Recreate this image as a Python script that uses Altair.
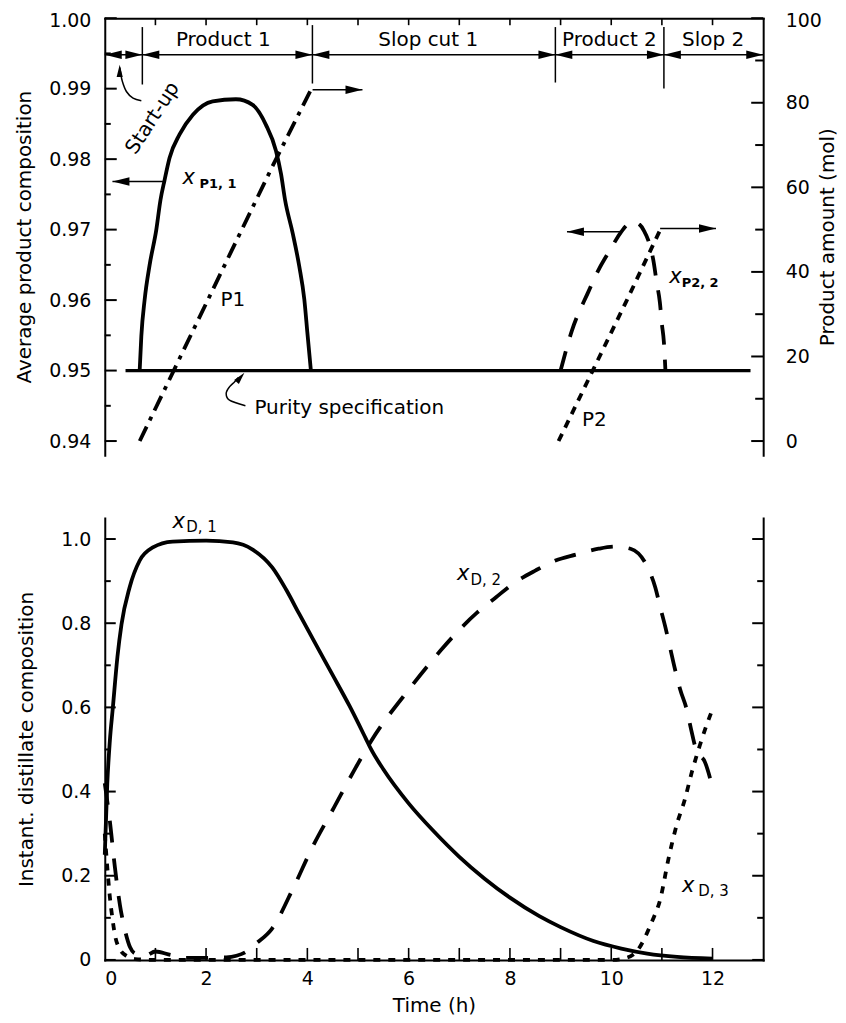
import altair as alt
import pandas as pd

FONT = "DejaVu Sans"
W = 660
H_TOP = 438
H_BOT = 443

TIME_DOMAIN = [0, 13]
AVG_DOMAIN = [0.938, 1.0]
AMT_DOMAIN = [-3.333, 100]
INST_DOMAIN = [0, 1.05]

# ---------------- top panel: average product composition (left axis) ----------------
xp11_t = [0.689, 0.722, 0.788, 0.886, 1.018, 1.10, 1.18, 1.28, 1.477, 1.74, 2.13, 2.59,
          2.92, 3.18, 3.38, 3.48, 3.56, 3.71, 3.84, 3.94, 4.00, 4.07]
xp11_v = [0.9500, 0.9549, 0.9601, 0.9650, 0.9700, 0.9742, 0.9770, 0.9802, 0.9835, 0.9863,
          0.9882, 0.9885, 0.9877, 0.9849, 0.9812, 0.9779, 0.9742, 0.9695, 0.9648, 0.9601,
          0.9554, 0.9500]

xp22_t = [9.00, 9.22, 9.55, 9.75, 9.95, 10.20, 10.30, 10.45, 10.55, 10.65, 10.73, 10.83,
          10.90, 10.96, 11.00, 11.04, 11.07]
xp22_v = [0.9500, 0.9556, 0.9612, 0.9643, 0.9668, 0.9697, 0.9706, 0.9711, 0.9708, 0.9698,
          0.9685, 0.9657, 0.9624, 0.9597, 0.9566, 0.9540, 0.9500]

purity_t = [0.41, 12.75]
purity_v = [0.95, 0.95]

# product amounts (right axis, mol)
p1_t = [0.69, 1.5, 2.5, 3.3, 4.10]
p1_m = [0.0, 20.1, 44.9, 64.7, 83.8]
p2_t = [8.96, 9.6, 10.3, 10.965]
p2_m = [0.0, 15.8, 33.1, 49.9]

# ---------------- bottom panel: instantaneous distillate composition ----------------
xd1_t = [0.0, 0.05, 0.10, 0.16, 0.25, 0.33, 0.49, 0.69, 0.95, 1.34, 2.00, 2.53, 2.92,
         3.31, 3.58, 3.84, 4.17, 4.49, 4.83, 5.15, 5.26, 5.50, 6.00, 6.50, 7.00, 7.50,
         8.00, 8.58, 9.00, 9.65, 10.20, 10.71, 11.30, 12.0]
xd1_v = [0.25, 0.42, 0.52, 0.60, 0.72, 0.797, 0.885, 0.949, 0.980, 0.994, 0.996, 0.992,
         0.975, 0.932, 0.880, 0.822, 0.749, 0.679, 0.604, 0.527, 0.500, 0.453, 0.372,
         0.305, 0.245, 0.193, 0.148, 0.104, 0.078, 0.045, 0.027, 0.015, 0.007, 0.003]

xd2_t = [0.0, 0.10, 0.20, 0.30, 0.40, 0.50, 0.60, 0.80, 1.00, 1.30, 1.60, 2.00, 2.40,
         2.60, 2.80, 3.00, 3.30, 3.73, 4.10, 4.53, 4.96, 5.26, 6.04, 6.63, 6.99, 7.35,
         7.72, 8.04, 8.50, 8.90, 9.30, 9.75, 10.08, 10.38, 10.70, 10.87, 10.97, 11.07,
         11.16, 11.26, 11.36, 11.49, 11.58, 11.68, 11.85, 12.0]
xd2_v = [0.42, 0.33, 0.22, 0.13, 0.07, 0.03, 0.015, 0.01, 0.02, 0.012, 0.005, 0.005,
         0.006, 0.01, 0.02, 0.04, 0.074, 0.173, 0.268, 0.363, 0.458, 0.52, 0.648, 0.735,
         0.783, 0.825, 0.861, 0.892, 0.925, 0.949, 0.963, 0.977, 0.982, 0.977, 0.937,
         0.885, 0.837, 0.79, 0.743, 0.69, 0.643, 0.595, 0.546, 0.498, 0.47, 0.41]

xd3_t = [0.0, 0.05, 0.10, 0.15, 0.20, 0.30, 0.45, 0.60, 1.0, 2.0, 3.0, 4.0, 5.0, 6.0,
         7.0, 8.0, 9.0, 10.0, 10.3, 10.5, 10.8, 10.97, 11.13, 11.29, 11.45, 11.6, 11.75,
         11.88, 12.02]
xd3_v = [0.30, 0.22, 0.15, 0.10, 0.06, 0.025, 0.008, 0.002, 0.0, 0.0, 0.0, 0.0, 0.0,
         0.0, 0.0, 0.0, 0.0, 0.0, 0.005, 0.02, 0.09, 0.145, 0.24, 0.32, 0.38, 0.45, 0.51,
         0.557, 0.602]

# ---------------- ticks ----------------
avg_major = [0.94, 0.95, 0.96, 0.97, 0.98, 0.99, 1.00]
avg_minor = [0.945, 0.955, 0.965, 0.975, 0.985, 0.995]
amt_major = [0, 20, 40, 60, 80, 100]
amt_minor = [10, 30, 50, 70, 90]
inst_major = [0, 0.2, 0.4, 0.6, 0.8, 1.0]
inst_minor = [0.1, 0.3, 0.5, 0.7, 0.9]
hour_ticks = [1, 2, 3, 4, 5, 6, 7, 8, 9, 10, 11, 12]
time_labels = [0, 2, 4, 6, 8, 10, 12]

# ---------------- cut bracket (top of upper panel) ----------------
cut_bounds = [0.0, 0.742, 4.10, 8.897, 11.04, 13.0]
cut_names = ["Product 1", "Slop cut 1", "Product 2", "Slop 2"]
cut_label_t = [2.34, 6.385, 9.963, 12.01]
cut_label_v = 0.99690
bracket_v = 0.9948
cut_line_t = [0.742, 4.10, 8.897, 11.04]
cut_line_top = [0.99874, 0.99902, 0.99874, 0.99874]
cut_line_bot = [0.99059, 0.99073, 0.99087, 0.99002]

# horizontal pointer arrows (tail t, tip t, level)
arrow_tail_t = [1.149, 4.103, 10.197, 10.965]
arrow_tip_t = [0.152, 5.088, 9.126, 12.068]
arrow_v = [0.97682, 0.98984, 0.96969, 0.97017]

# curved pointer for "Start-up"
startup_t = [0.722, 0.558, 0.427, 0.348, 0.309, 0.298]
startup_v = [0.98830, 0.98866, 0.98960, 0.99101, 0.99241, 0.99300]
startup_tip = (0.295, 0.99340)
# curved pointer for "Purity specification"
purity_arrow_t = [2.777, 2.462, 2.397, 2.462, 2.561, 2.640]
purity_arrow_v = [0.94502, 0.94580, 0.94675, 0.94769, 0.94839, 0.94900]
purity_tip = (2.757, 0.94970)

# ---------------- texts ----------------
top_text = ["P1", "P2"]
top_text_t = [2.53, 9.665]
top_text_v = [0.9600, 0.9430]
purity_label = "Purity specification"
purity_label_pos = (2.955, 0.94474)
startup_label = "Start-up"
startup_label_pos = (0.945, 0.98581)

top_x_t = [1.655, 11.27]
top_x_v = [0.97738, 0.96329]
top_sub = ["P1, 1", "P2, 2"]
top_sub_t = [1.871, 11.39]
top_sub_v = [0.97654, 0.96244]

bot_x_t = [1.46, 7.075, 11.52]
bot_x_v = [1.040, 0.918, 0.1754]
bot_sub = ["D, 1", "D, 2", "D, 3"]
bot_sub_t = [1.61, 7.22, 11.72]
bot_sub_v = [1.029, 0.902, 0.1635]

# ================= helpers =================
def line_df(t, v, col="v"):
    return pd.DataFrame({"t": t, col: v, "i": list(range(len(t)))})

AX_TOP_X = alt.Axis(orient="top", labels=False, ticks=False, title=None, domain=True,
                    grid=False)
AX_BOT_X = alt.Axis(orient="bottom", values=time_labels, format="d", title="Time (h)",
                    ticks=False, labelPadding=10, titlePadding=7, grid=False)
AX_AVG = alt.Axis(orient="left", values=avg_major, format=".2f",
                  title="Average product composition", ticks=False, labelPadding=14,
                  titlePadding=14, grid=False,
                  labelOffset={"condition": {"test": "datum.value >= 0.9999", "value": 2},
                               "value": 0})
AX_AMT = alt.Axis(orient="right", values=amt_major, format="d",
                  title="Product amount (mol)", ticks=False, labelPadding=22,
                  titlePadding=16, titleAngle=270, grid=False,
                  labelOffset={"condition": {"test": "datum.value >= 99.99", "value": 2},
                               "value": 0})
AX_INST = alt.Axis(orient="left", values=inst_major,
                   labelExpr="datum.value == 0 ? '0' : format(datum.value, '.1f')",
                   title="Instant. distillate composition", ticks=False, labelPadding=14,
                   titlePadding=24, grid=False)
AX_INST_R = alt.Axis(orient="right", labels=False, ticks=False, title=None, grid=False)


def sx(domain=TIME_DOMAIN):
    return alt.Scale(domain=domain, nice=False, zero=False)


def xt(field="t"):
    return alt.X(f"{field}:Q", scale=sx(), axis=AX_TOP_X)


def xb(field="t"):
    return alt.X(f"{field}:Q", scale=sx(), axis=AX_BOT_X)


def ya(field="v"):
    return alt.Y(f"{field}:Q", scale=sx(AVG_DOMAIN), axis=AX_AVG)


def ym(field="m"):
    return alt.Y(f"{field}:Q", scale=sx(AMT_DOMAIN), axis=AX_AMT)


def yi(field="v"):
    return alt.Y(f"{field}:Q", scale=sx(INST_DOMAIN), axis=AX_INST)


def yi_r(field="v"):
    return alt.Y(f"{field}:Q", scale=sx(INST_DOMAIN), axis=AX_INST_R)


def curve(df, X, Y, width=3.8, dash=None, interp="monotone"):
    kw = dict(color="black", strokeWidth=width, strokeCap="butt", strokeJoin="round",
              interpolate=interp)
    if dash:
        kw["strokeDash"] = dash
    return alt.Chart(df).mark_line(**kw).encode(x=X, y=Y, order="i:Q")


HEAD_R = "M0,0L-2,-0.5L-2,0.5Z"
HEAD_L = "M0,0L2,-0.5L2,0.5Z"
HEAD_U = "M0,0L-0.5,2L0.5,2Z"


def heads(df, X, Y, shape, size=289, angle=0):
    return alt.Chart(df).mark_point(shape=shape, filled=True, color="black", opacity=1,
                                    size=size, angle=angle, strokeWidth=0).encode(x=X, y=Y)


def texts(df, X, Y, size=19, align="center", style="normal", weight="normal", angle=0):
    return alt.Chart(df).mark_text(font=FONT, fontSize=size, color="black", align=align,
                                   baseline="middle", fontStyle=style, fontWeight=weight,
                                   angle=angle).encode(x=X, y=Y, text="label:N")


# ================= top panel =================
seg_df = pd.DataFrame({"t0": cut_bounds[:-1], "t1": cut_bounds[1:],
                       "v": [bracket_v] * (len(cut_bounds) - 1)})
bl_df = pd.DataFrame({"t": cut_bounds[:-1], "v": [bracket_v] * (len(cut_bounds) - 1)})
br_df = pd.DataFrame({"t": cut_bounds[1:], "v": [bracket_v] * (len(cut_bounds) - 1)})
vl_df = pd.DataFrame({"t": cut_line_t, "v": cut_line_top, "v2": cut_line_bot})
cutlab_df = pd.DataFrame({"t": cut_label_t, "v": [cut_label_v] * 4, "label": cut_names})

arr_df = pd.DataFrame({"t0": arrow_tail_t, "t1": arrow_tip_t, "v": arrow_v})
arr_tip = pd.DataFrame({"t": arrow_tip_t, "v": arrow_v,
                        "dir": ["L" if b < a else "R" for a, b in zip(arrow_tail_t, arrow_tip_t)]})

left_layers = [
    # ticks
    alt.Chart(pd.DataFrame({"v": avg_major})).mark_rule(color="black", strokeWidth=2).encode(
        y=ya(), x=alt.value(0), x2=alt.value(12)),
    alt.Chart(pd.DataFrame({"v": avg_minor})).mark_rule(color="black", strokeWidth=2).encode(
        y=ya(), x=alt.value(0), x2=alt.value(6)),
    alt.Chart(pd.DataFrame({"t": hour_ticks})).mark_rule(color="black", strokeWidth=1.6).encode(
        x=xt(), y=alt.value(0), y2=alt.value(7)),
    # curves
    curve(line_df(purity_t, purity_v), xt(), ya(), width=3.2, interp="linear"),
    curve(line_df(xp11_t, xp11_v), xt(), ya()),
    curve(line_df(xp22_t, xp22_v), xt(), ya(), dash=[20, 15]),
    # bracket
    alt.Chart(seg_df).mark_rule(color="black", strokeWidth=1.5).encode(
        x=xt("t0"), x2="t1:Q", y=ya()),
    alt.Chart(vl_df).mark_rule(color="black", strokeWidth=1.5).encode(
        x=xt(), y=ya(), y2="v2:Q"),
    heads(bl_df, xt(), ya(), HEAD_L),
    heads(br_df, xt(), ya(), HEAD_R),
    texts(cutlab_df, xt(), ya(), size=20),
    # pointer arrows
    alt.Chart(arr_df).mark_rule(color="black", strokeWidth=1.5).encode(
        x=xt("t0"), x2="t1:Q", y=ya()),
    heads(arr_tip[arr_tip.dir == "L"], xt(), ya(), HEAD_L),
    heads(arr_tip[arr_tip.dir == "R"], xt(), ya(), HEAD_R),
    curve(line_df(startup_t, startup_v), xt(), ya(), width=1.5, interp="cardinal"),
    heads(pd.DataFrame({"t": [startup_tip[0]], "v": [startup_tip[1]]}), xt(), ya(), HEAD_U,
          size=150, angle=0),
    curve(line_df(purity_arrow_t, purity_arrow_v), xt(), ya(), width=1.5, interp="cardinal"),
    heads(pd.DataFrame({"t": [purity_tip[0]], "v": [purity_tip[1]]}), xt(), ya(), HEAD_U,
          size=150, angle=40),
    # texts
    texts(pd.DataFrame({"t": top_text_t, "v": top_text_v, "label": top_text}), xt(), ya(),
          size=20),
    texts(pd.DataFrame({"t": [purity_label_pos[0]], "v": [purity_label_pos[1]],
                        "label": [purity_label]}), xt(), ya(), align="left", size=20),
    texts(pd.DataFrame({"t": [startup_label_pos[0]], "v": [startup_label_pos[1]],
                        "label": [startup_label]}), xt(), ya(), angle=303, size=20),
    texts(pd.DataFrame({"t": top_x_t, "v": top_x_v, "label": ["x", "x"]}), xt(), ya(),
          size=21, style="italic"),
    texts(pd.DataFrame({"t": top_sub_t, "v": top_sub_v, "label": top_sub}), xt(), ya(),
          size=13, align="left", weight="bold"),
]
left_top = alt.layer(*left_layers)

right_layers = [
    alt.Chart(pd.DataFrame({"m": amt_major})).mark_rule(color="black", strokeWidth=2).encode(
        y=ym(), x=alt.value(W - 12), x2=alt.value(W)),
    alt.Chart(pd.DataFrame({"m": amt_minor})).mark_rule(color="black", strokeWidth=2).encode(
        y=ym(), x=alt.value(W - 8), x2=alt.value(W)),
    curve(line_df(p1_t, p1_m, "m"), xt(), ym(), dash=[16, 7, 4, 7], interp="linear"),
    curve(line_df(p2_t, p2_m, "m"), xt(), ym(), dash=[8, 7], interp="linear"),
]
right_top = alt.layer(*right_layers)

top = alt.layer(left_top, right_top).resolve_scale(y="independent").properties(
    width=W, height=H_TOP)

# ================= bottom panel =================
bot_left_layers = [
    alt.Chart(pd.DataFrame({"v": inst_major})).mark_rule(color="black", strokeWidth=2).encode(
        y=yi(), x=alt.value(0), x2=alt.value(11)),
    alt.Chart(pd.DataFrame({"v": inst_minor})).mark_rule(color="black", strokeWidth=2).encode(
        y=yi(), x=alt.value(0), x2=alt.value(6)),
    alt.Chart(pd.DataFrame({"t": hour_ticks})).mark_rule(color="black", strokeWidth=1.6).encode(
        x=xb(), y=alt.value(H_BOT - 12), y2=alt.value(H_BOT)),
    curve(line_df(xd3_t, xd3_v), xb(), yi(), dash=[7, 8]),
    curve(line_df(xd2_t, xd2_v), xb(), yi(), dash=[22, 16]),
    curve(line_df(xd1_t, xd1_v), xb(), yi()),
    texts(pd.DataFrame({"t": bot_x_t, "v": bot_x_v, "label": ["x", "x", "x"]}), xb(), yi(),
          size=21, style="italic"),
    texts(pd.DataFrame({"t": bot_sub_t, "v": bot_sub_v, "label": bot_sub}), xb(), yi(),
          size=15, align="left"),
]
bot_left = alt.layer(*bot_left_layers)

bot_right_layers = [
    alt.Chart(pd.DataFrame({"v": inst_major})).mark_rule(color="black", strokeWidth=2).encode(
        y=yi_r(), x=alt.value(W - 11), x2=alt.value(W)),
    alt.Chart(pd.DataFrame({"v": inst_minor})).mark_rule(color="black", strokeWidth=2).encode(
        y=yi_r(), x=alt.value(W - 6), x2=alt.value(W)),
]
bot_right = alt.layer(*bot_right_layers)

bottom = alt.layer(bot_left, bot_right).resolve_scale(y="independent").properties(
    width=W, height=H_BOT)

chart = alt.vconcat(top, bottom, spacing=63, bounds="flush").properties(
    padding={"left": 6, "top": 2, "right": 0, "bottom": 0}
).configure_view(stroke=None).configure_axis(
    domainColor="black", domainWidth=2, domainCap="square",
    labelFont=FONT, labelFontSize=19, labelColor="black",
    titleFont=FONT, titleFontSize=20, titleFontWeight="normal", titleColor="black",
)

chart.save("out.html", embed_options={"renderer": "svg", "actions": False})
